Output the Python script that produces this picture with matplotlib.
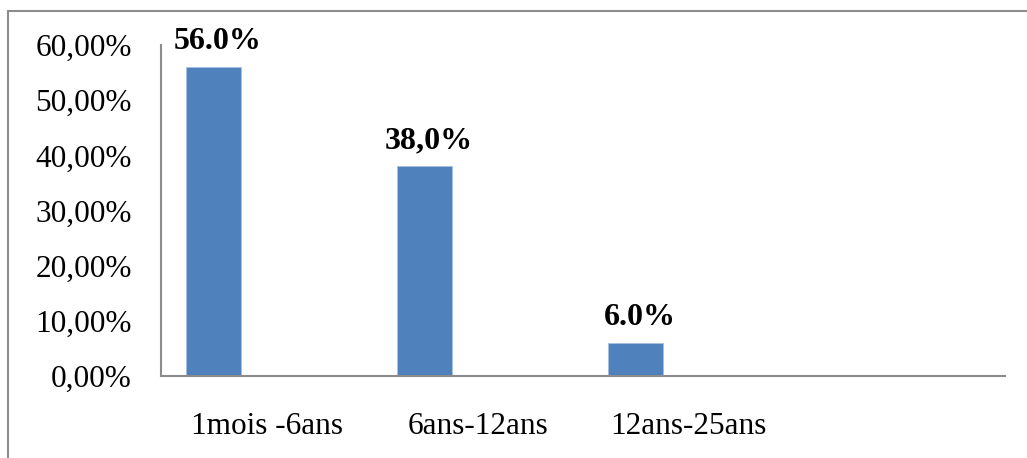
import matplotlib.pyplot as plt
from matplotlib.patches import Rectangle
from matplotlib.ticker import FuncFormatter

# age groups and their share of cases (%)
categories = ['1mois -6ans', '6ans-12ans', '12ans-25ans', '']
values = [56.0, 38.0, 6.0]
value_labels = ['56.0%', '38,0%', '6.0%']
y_ticks = [0, 10, 20, 30, 40, 50, 60]

plt.rcParams['font.family'] = ['Liberation Serif', 'DejaVu Serif']

fig = plt.figure(figsize=(10.27, 4.58), dpi=100)
ax = fig.add_axes([0.1568, 0.179, 0.8218, 0.7227])

# outer chart frame, partly clipped on the right and bottom
fig.patches.append(Rectangle((8 / 1027, -0.1), 1.2, 1.1 - 11 / 458,
                             transform=fig.transFigure, fill=False,
                             edgecolor='#8c8c8c', linewidth=1.5))

pos = list(range(len(categories)))
bar_x = [p - 0.25 for p in pos[:len(values)]]
ax.bar(bar_x, values, width=0.26, color='#4f81bd', edgecolor='#a9c1e0', linewidth=0.6)

for x, v, lab in zip(bar_x, values, value_labels):
    ax.annotate(lab, (x, v), xytext=(3, 8), textcoords='offset points',
                ha='center', va='bottom', fontsize=23, fontweight='bold')

ax.set_xlim(-0.5, len(categories) - 0.5)
ax.set_ylim(0, 60)
ax.set_yticks(y_ticks)
ax.yaxis.set_major_formatter(FuncFormatter(lambda v, p: f"{v:.2f}%".replace('.', ',')))
ax.set_xticks(pos)
ax.set_xticklabels(categories)

ax.tick_params(axis='y', length=0, pad=21, labelsize=22.5)
ax.tick_params(axis='x', length=0, pad=26, labelsize=22.5)

for side in ['top', 'right']:
    ax.spines[side].set_visible(False)
for side in ['left', 'bottom']:
    ax.spines[side].set_color('#8c8c8c')
    ax.spines[side].set_linewidth(1.5)
ax.patch.set_visible(False)

fig.savefig('out.png', dpi=100)
